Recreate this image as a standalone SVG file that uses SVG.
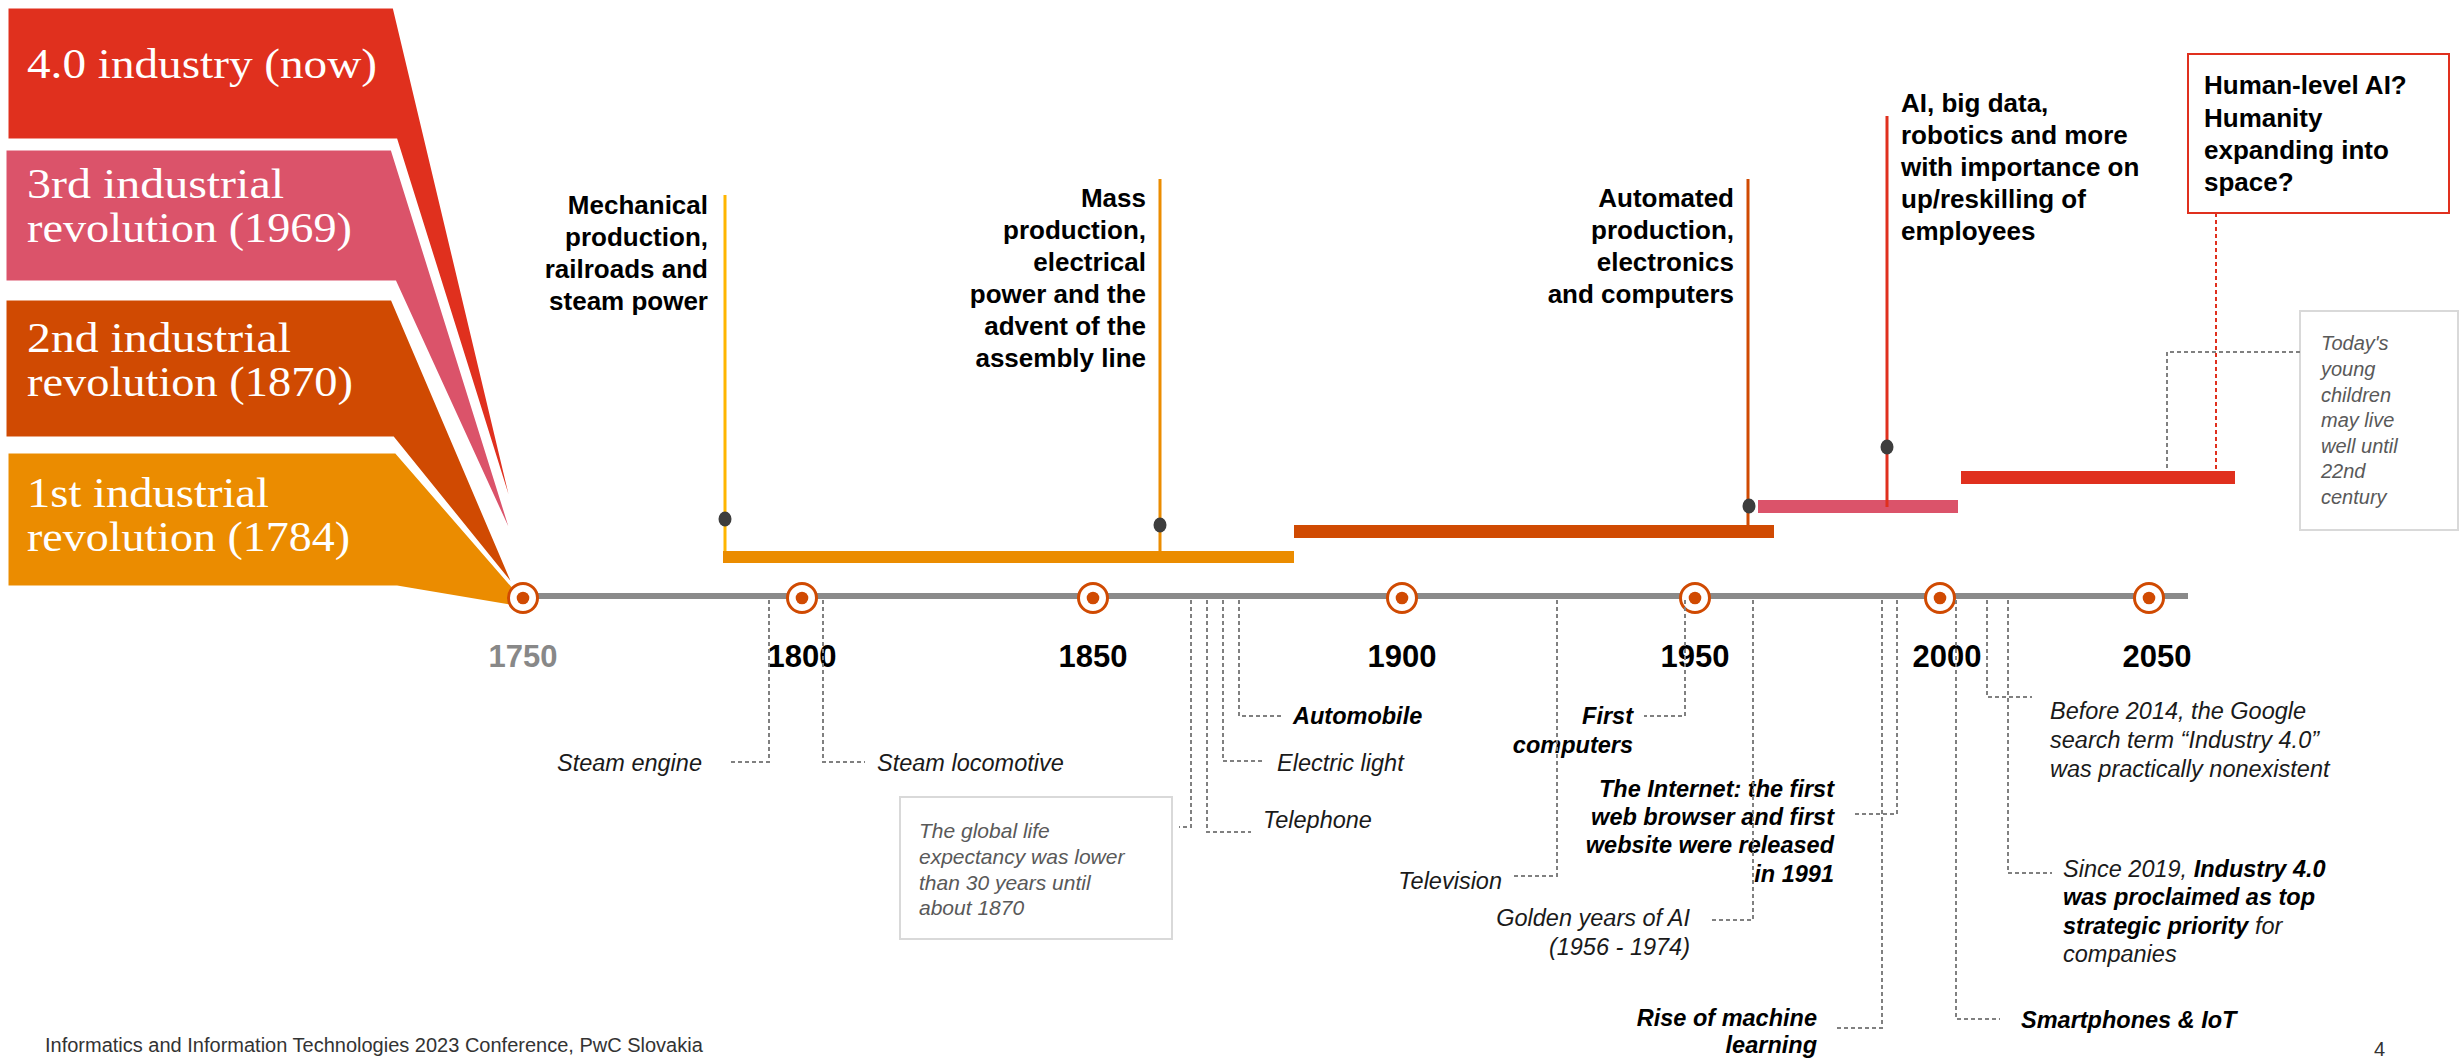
<svg xmlns="http://www.w3.org/2000/svg" width="2459" height="1058" viewBox="0 0 2459 1058">
  <style>
    .banner { stroke: #ffffff; stroke-width: 3; stroke-linejoin: miter; }
    .btxt { font-family: "Liberation Serif", Georgia, serif; font-size: 43px; fill: #ffffff; }
    .head { font-family: "Liberation Sans", Arial, sans-serif; font-size: 26px; font-weight: bold; fill: #000000; }
    .year { font-family: "Liberation Sans", Arial, sans-serif; font-size: 31px; font-weight: bold; fill: #000000; text-anchor: middle; }
    .lbl { font-family: "Liberation Sans", Arial, sans-serif; font-size: 23.5px; font-style: italic; fill: #1a1a1a; }
    .lblb { font-family: "Liberation Sans", Arial, sans-serif; font-size: 23.5px; font-style: italic; font-weight: bold; fill: #000000; }
    .note { font-family: "Liberation Sans", Arial, sans-serif; font-style: italic; fill: #595959; }
    .foot { font-family: "Liberation Sans", Arial, sans-serif; font-size: 20px; fill: #333333; }
    .ring { fill: #ffffff; stroke: #d04a02; stroke-width: 3; }
    .ringdot { fill: #d04a02; }
    .pin { fill: #3d3d3d; }
    .dash { fill: none; stroke: #808080; stroke-width: 2; stroke-dasharray: 4 3; }
    .end { text-anchor: end; }
  </style>

  <!-- era banners, back to front -->
  <g id="era-4">
    <polygon class="banner" fill="#e0301e" points="7,7 394,7 520,536 396,140 7,140"/>
    <text class="btxt" x="27" y="78" textLength="350" lengthAdjust="spacingAndGlyphs">4.0 industry (now)</text>
  </g>
  <g id="era-3">
    <polygon class="banner" fill="#db536a" points="5,149 392,149 517,549 395,282 5,282"/>
    <text class="btxt" x="27" y="198" textLength="257" lengthAdjust="spacingAndGlyphs">3rd industrial</text>
    <text class="btxt" x="27" y="242" textLength="325" lengthAdjust="spacingAndGlyphs">revolution (1969)</text>
  </g>
  <g id="era-2">
    <polygon class="banner" fill="#d04a02" points="5,299 392,299 516,590 393,438 5,438"/>
    <text class="btxt" x="27" y="352" textLength="264" lengthAdjust="spacingAndGlyphs">2nd industrial</text>
    <text class="btxt" x="27" y="396" textLength="326" lengthAdjust="spacingAndGlyphs">revolution (1870)</text>
  </g>
  <g id="era-1">
    <polygon class="banner" fill="#eb8c00" points="7,452 396,452 516,590 516,607 397,587 7,587"/>
    <text class="btxt" x="27" y="507" textLength="242" lengthAdjust="spacingAndGlyphs">1st industrial</text>
    <text class="btxt" x="27" y="551" textLength="323" lengthAdjust="spacingAndGlyphs">revolution (1784)</text>
  </g>

  <!-- main time axis -->
  <g id="axis">
    <line x1="523" y1="596" x2="2188" y2="596" stroke="#8a8a8a" stroke-width="6"/>
  </g>

  <!-- year markers -->
  <g id="y1750"><circle class="ring" cx="523" cy="598" r="14.5"/><circle class="ringdot" cx="523" cy="598" r="6.3"/><text class="year" x="523" y="667" fill="#888888" style="fill:#888888">1750</text></g>
  <g id="y1800"><circle class="ring" cx="802" cy="598" r="14.5"/><circle class="ringdot" cx="802" cy="598" r="6.3"/><text class="year" x="802" y="667">1800</text></g>
  <g id="y1850"><circle class="ring" cx="1093" cy="598" r="14.5"/><circle class="ringdot" cx="1093" cy="598" r="6.3"/><text class="year" x="1093" y="667">1850</text></g>
  <g id="y1900"><circle class="ring" cx="1402" cy="598" r="14.5"/><circle class="ringdot" cx="1402" cy="598" r="6.3"/><text class="year" x="1402" y="667">1900</text></g>
  <g id="y1950"><circle class="ring" cx="1695" cy="598" r="14.5"/><circle class="ringdot" cx="1695" cy="598" r="6.3"/><text class="year" x="1695" y="667">1950</text></g>
  <g id="y2000"><circle class="ring" cx="1940" cy="598" r="14.5"/><circle class="ringdot" cx="1940" cy="598" r="6.3"/><text class="year" x="1947" y="667">2000</text></g>
  <g id="y2050"><circle class="ring" cx="2149" cy="598" r="14.5"/><circle class="ringdot" cx="2149" cy="598" r="6.3"/><text class="year" x="2157" y="667">2050</text></g>

  <!-- era spans with headline markers -->
  <g id="span-1">
    <rect x="723" y="551" width="571" height="12" fill="#eb8c00"/>
    <line x1="725" y1="195" x2="725" y2="551" stroke="#ffb600" stroke-width="3"/>
    <ellipse class="pin" cx="725" cy="519" rx="6.5" ry="7.5"/>
    <text class="head end" x="708" y="214">Mechanical</text>
    <text class="head end" x="708" y="246">production,</text>
    <text class="head end" x="708" y="278">railroads and</text>
    <text class="head end" x="708" y="310">steam power</text>
    <line x1="1160" y1="179" x2="1160" y2="551" stroke="#eb8c00" stroke-width="3"/>
    <ellipse class="pin" cx="1160" cy="525" rx="6.5" ry="7.5"/>
    <text class="head end" x="1146" y="207">Mass</text>
    <text class="head end" x="1146" y="239">production,</text>
    <text class="head end" x="1146" y="271">electrical</text>
    <text class="head end" x="1146" y="303">power and the</text>
    <text class="head end" x="1146" y="335">advent of the</text>
    <text class="head end" x="1146" y="367">assembly line</text>
  </g>
  <g id="span-2">
    <rect x="1294" y="525" width="480" height="13" fill="#d04a02"/>
    <line x1="1748" y1="179" x2="1748" y2="525" stroke="#d04a02" stroke-width="3"/>
    <ellipse class="pin" cx="1749" cy="506" rx="6.5" ry="7.5"/>
    <text class="head end" x="1734" y="207">Automated</text>
    <text class="head end" x="1734" y="239">production,</text>
    <text class="head end" x="1734" y="271">electronics</text>
    <text class="head end" x="1734" y="303">and computers</text>
  </g>
  <g id="span-3">
    <rect x="1758" y="500" width="200" height="13" fill="#db536a"/>
    <line x1="1887" y1="116" x2="1887" y2="507" stroke="#e0301e" stroke-width="3"/>
    <ellipse class="pin" cx="1887" cy="447" rx="6.5" ry="7.5"/>
    <text class="head" x="1901" y="112">AI, big data,</text>
    <text class="head" x="1901" y="144">robotics and more</text>
    <text class="head" x="1901" y="176">with importance on</text>
    <text class="head" x="1901" y="208">up/reskilling of</text>
    <text class="head" x="1901" y="240">employees</text>
  </g>
  <g id="span-4">
    <rect x="1961" y="471" width="274" height="13" fill="#e0301e"/>
  </g>
  <g id="future-box">
    <rect x="2188" y="54" width="261" height="159" fill="#ffffff" stroke="#e0301e" stroke-width="2"/>
    <text class="head" x="2204" y="94">Human-level AI?</text>
    <text class="head" x="2204" y="127">Humanity</text>
    <text class="head" x="2204" y="159">expanding into</text>
    <text class="head" x="2204" y="191">space?</text>
  </g>
  <g id="lifespan-note">
    <rect x="2300" y="311" width="158" height="219" fill="#ffffff" stroke="#d9d9d9" stroke-width="2"/>
    <text class="note" font-size="20" x="2321" y="350">Today's</text>
    <text class="note" font-size="20" x="2321" y="376">young</text>
    <text class="note" font-size="20" x="2321" y="402">children</text>
    <text class="note" font-size="20" x="2321" y="427">may live</text>
    <text class="note" font-size="20" x="2321" y="453">well until</text>
    <text class="note" font-size="20" x="2321" y="478">22nd</text>
    <text class="note" font-size="20" x="2321" y="504">century</text>
  </g>
  <g id="life-expectancy-note">
    <rect x="900" y="797" width="272" height="142" fill="#ffffff" stroke="#d9d9d9" stroke-width="2"/>
    <text class="note" font-size="21" x="919" y="838">The global life</text>
    <text class="note" font-size="21" x="919" y="864">expectancy was lower</text>
    <text class="note" font-size="21" x="919" y="890">than 30 years until</text>
    <text class="note" font-size="21" x="919" y="915">about 1870</text>
  </g>

  <!-- event labels below the axis -->
  <g id="ev-steam-engine"><text class="lbl end" x="702" y="771">Steam engine</text></g>
  <g id="ev-steam-locomotive"><text class="lbl" x="877" y="771">Steam locomotive</text></g>
  <g id="ev-telephone"><text class="lbl" x="1263" y="828">Telephone</text></g>
  <g id="ev-electric-light"><text class="lbl" x="1277" y="771">Electric light</text></g>
  <g id="ev-automobile"><text class="lblb" x="1293" y="724">Automobile</text></g>
  <g id="ev-television"><text class="lbl end" x="1502" y="889">Television</text></g>
  <g id="ev-first-computers">
    <text class="lblb end" x="1633" y="724">First</text>
    <text class="lblb end" x="1633" y="753">computers</text>
  </g>
  <g id="ev-golden-ai">
    <text class="lbl end" x="1690" y="926">Golden years of AI</text>
    <text class="lbl end" x="1690" y="955">(1956 - 1974)</text>
  </g>
  <g id="ev-internet">
    <text class="lblb end" x="1834" y="797">The Internet: the first</text>
    <text class="lblb end" x="1834" y="825">web browser and first</text>
    <text class="lblb end" x="1834" y="853">website were released</text>
    <text class="lblb end" x="1834" y="882">in 1991</text>
  </g>
  <g id="ev-machine-learning">
    <text class="lblb end" x="1817" y="1026">Rise of machine</text>
    <text class="lblb end" x="1817" y="1053">learning</text>
  </g>
  <g id="ev-smartphones"><text class="lblb" x="2021" y="1028">Smartphones &amp; IoT</text></g>
  <g id="ev-google-2014">
    <text class="lbl" x="2050" y="719">Before 2014, the Google</text>
    <text class="lbl" x="2050" y="748">search term “Industry 4.0”</text>
    <text class="lbl" x="2050" y="777">was practically nonexistent</text>
  </g>
  <g id="ev-priority-2019">
    <text class="lbl" x="2063" y="877">Since 2019, <tspan font-weight="bold" fill="#000000">Industry 4.0</tspan></text>
    <text class="lblb" x="2063" y="905">was proclaimed as top</text>
    <text class="lbl" x="2063" y="934"><tspan font-weight="bold" fill="#000000">strategic priority</tspan> for</text>
    <text class="lbl" x="2063" y="962">companies</text>
  </g>

  <!-- leader lines -->
  <g id="connectors">
    <path class="dash" d="M769 600 V762 H728"/>
    <path class="dash" d="M823 600 V762 H865"/>
    <path class="dash" d="M1191 600 V827 H1179"/>
    <path class="dash" d="M1207 600 V832 H1251"/>
    <path class="dash" d="M1223 600 V761 H1265"/>
    <path class="dash" d="M1239 600 V716 H1282"/>
    <path class="dash" d="M1557 600 V876 H1514"/>
    <path class="dash" d="M1685 600 V716 H1644"/>
    <path class="dash" d="M1753 600 V920 H1709"/>
    <path class="dash" d="M1882 600 V1028 H1836"/>
    <path class="dash" d="M1897 600 V814 H1853"/>
    <path class="dash" d="M1956 600 V1019 H2000"/>
    <path class="dash" d="M1987 600 V697 H2032"/>
    <path class="dash" d="M2008 600 V873 H2052"/>
    <path class="dash" d="M2300 352 H2167 V470"/>
    <path d="M2216 213 V471" fill="none" stroke="#e0301e" stroke-width="2" stroke-dasharray="4 3"/>
  </g>

  <!-- footer -->
  <g id="footer">
    <text class="foot" x="45" y="1052">Informatics and Information Technologies 2023 Conference, PwC Slovakia</text>
    <text class="foot" x="2374" y="1056" font-size="18">4</text>
  </g>
</svg>
